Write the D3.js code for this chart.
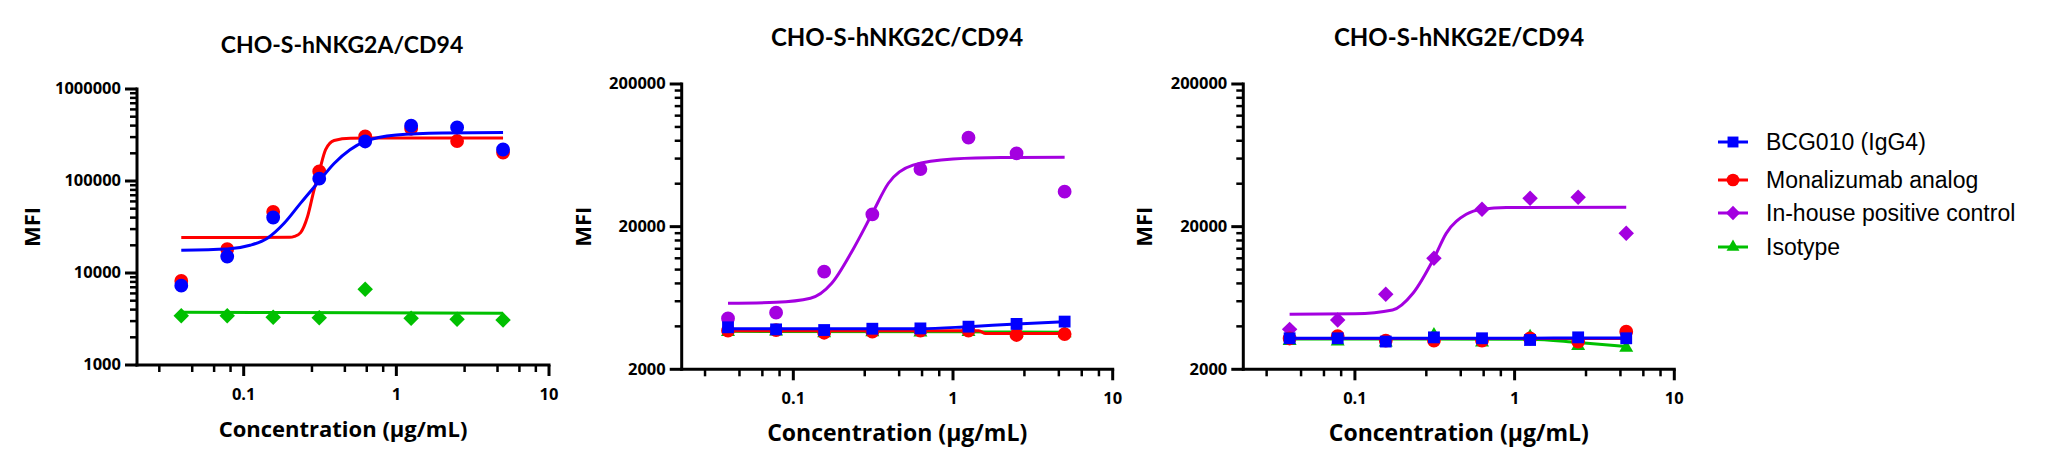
<!DOCTYPE html>
<html lang="en">
<head>
<meta charset="UTF-8">
<title>CHO-S NKG2x/CD94 binding</title>
<script src="https://cdn.jsdelivr.net/npm/d3@7/dist/d3.min.js"></script>
<style>
  body { margin: 0; background: #fff; }
  svg text { font-family: "Open Sans", Lato, sans-serif; font-weight: bold; fill: #000; }
  svg text.panel-title { font-family: Lato, "Open Sans", sans-serif; }
  .legend text { font-family: "Liberation Sans", Arial, sans-serif; font-weight: normal; }
</style>
</head>
<body>
<div id="container"></div>
<script>
// concentrations (µg/mL), 2-fold dilution
const conc = [0.039, 0.078, 0.156, 0.3125, 0.625, 1.25, 2.5, 5];

const xDomain = [0.02, 10];
const xMajorTicks = [0.1, 1, 10];
const xTickLabels = ["0.1", "1", "10"];
const xDecades = [0.01, 0.1, 1];
const xMinorSteps = [2.8, 4.6, 6.4, 8.2];

const yDomainA = [1000, 1000000];
const yMajorTicksA = [1000, 10000, 100000, 1000000];
const yDecadesA = [1000, 10000, 100000];
const yDomainCE = [2000, 200000];
const yMajorTicksCE = [2000, 20000, 200000];
const yDecadesCE = [2000, 20000];
const yMinorSteps = [2, 3, 4, 5, 6, 7, 8, 9];

const titles = ["CHO-S-hNKG2A/CD94", "CHO-S-hNKG2C/CD94", "CHO-S-hNKG2E/CD94"];
const seriesNames = ["BCG010 (IgG4)", "Monalizumab analog", "In-house positive control", "Isotype"];
const legendShapes = ["square", "circle", "diamond", "triangle"];
const xTitle = "Concentration (µg/mL)";
const yTitle = "MFI";

// NKG2A panel
const aBcg010 = [7290, 15100, 40100, 106000, 269000, 399000, 382000, 220000];
const aMona = [8200, 18200, 46200, 127000, 306000, 370000, 272000, 204000];
const aIso = [3440, 3440, 3300, 3270, 6670, 3220, 3140, 3090];
const aBcg010Fit = [[0.039, 17700], [0.078, 18200], [0.11, 20000], [0.143, 23900], [0.184, 34700], [0.236, 57500], [0.3125, 100000], [0.391, 155000], [0.497, 219000], [0.625, 269000], [1, 316000], [2, 333000], [5, 337000]];
const aMonaFit = [[0.039, 24300], [0.2, 24400], [0.215, 25000], [0.236, 27500], [0.262, 41100], [0.289, 80200], [0.3125, 127000], [0.344, 219000], [0.391, 276000], [0.5, 292000], [1, 293000], [5, 293000]];
const aIsoFit = [[0.039, 3740], [0.625, 3700], [5, 3660]];

// NKG2C panel
const cBcg010 = [3940, 3810, 3770, 3850, 3870, 3980, 4160, 4320];
const cMona = [3730, 3760, 3610, 3670, 3730, 3730, 3480, 3530];
const cPos = [4550, 4990, 9670, 24400, 50700, 84100, 65300, 35200];
const cIso = [3660, 3680, 3580, 3640, 3620, 3650, 3590, 3580];
const cBcg010Fit = [[0.039, 3850], [0.625, 3850], [1.25, 3980], [2.5, 4160], [5, 4300]];
const cMonaFit = [[0.039, 3730], [1.45, 3730], [1.6, 3560], [5, 3560]];
const cPosFit = [[0.039, 5810], [0.078, 5900], [0.128, 6300], [0.174, 8020], [0.237, 13900], [0.3125, 24800], [0.394, 40300], [0.562, 54000], [1, 59600], [2, 61000], [5, 61200]];
const cIsoFit = [[0.039, 3690], [1.25, 3660], [5, 3630]];

// NKG2E panel
const eBcg010 = [3300, 3300, 3130, 3350, 3300, 3210, 3350, 3300];
const eMona = [3290, 3420, 3180, 3180, 3180, 3290, 3130, 3670];
const ePos = [3810, 4430, 6710, 12000, 26500, 31600, 32100, 17960];
const eIso = [3160, 3130, 3080, 3480, 3080, 3380, 2910, 2830];
const eBcg010Fit = [[0.039, 3300], [1.25, 3300], [2.5, 3320], [5, 3320]];
const eMonaFit = [[0.039, 3290], [5, 3290]];
const ePosFit = [[0.039, 4860], [0.1, 4900], [0.172, 5210], [0.231, 6820], [0.3125, 12000], [0.373, 17950], [0.498, 24400], [0.625, 26500], [0.887, 27200], [5, 27300]];
const eIsoFit = [[0.039, 3260], [1.25, 3250], [2.5, 3080], [5, 2890]];

const colors = ["#0000ff", "#ff0000", "#a400e0", "#00c000"];

const panels = [
  { title: titles[0], titleX: 342, titleY: 53, titleSize: 23, axisTitleSize: 22, x0: 137, x1: 549, yTop: 89, yBottom: 365,
    yDomain: yDomainA, yMajor: yMajorTicksA, yDecades: yDecadesA, yLabelX: 32,
    series: [
      { s: 3, values: aIso, fit: aIsoFit, shape: "diamond" },
      { s: 1, values: aMona, fit: aMonaFit, shape: "circle" },
      { s: 0, values: aBcg010, fit: aBcg010Fit, shape: "circle" }] },
  { title: titles[1], titleX: 897, titleY: 46, titleSize: 24, axisTitleSize: 23, x0: 681.7, x1: 1112.7, yTop: 84, yBottom: 369.3,
    yDomain: yDomainCE, yMajor: yMajorTicksCE, yDecades: yDecadesCE, yLabelX: 583,
    series: [
      { s: 2, values: cPos, fit: cPosFit, shape: "circle" },
      { s: 3, values: cIso, fit: cIsoFit, shape: "triangle" },
      { s: 1, values: cMona, fit: cMonaFit, shape: "circle" },
      { s: 0, values: cBcg010, fit: cBcg010Fit, shape: "square" }] },
  { title: titles[2], titleX: 1459, titleY: 46, titleSize: 24, axisTitleSize: 23, x0: 1243.3, x1: 1674.3, yTop: 84, yBottom: 369.3,
    yDomain: yDomainCE, yMajor: yMajorTicksCE, yDecades: yDecadesCE, yLabelX: 1144,
    series: [
      { s: 2, values: ePos, fit: ePosFit, shape: "diamond" },
      { s: 3, values: eIso, fit: eIsoFit, shape: "triangle" },
      { s: 1, values: eMona, fit: eMonaFit, shape: "circle" },
      { s: 0, values: eBcg010, fit: eBcg010Fit, shape: "square" }] }
];

const width = 2048, height = 469;
const svg = d3.select("#container").append("svg")
    .attr("width", width)
    .attr("height", height);

const symbolTypes = { circle: d3.symbolCircle, square: d3.symbolSquare, diamond: d3.symbolSquare, triangle: d3.symbolTriangle };
const symbolSizes = { circle: 150, square: 140, diamond: 120, triangle: 85 };

function marker(sel, shape, color, scale) {
  sel.append("path")
      .attr("d", d3.symbol().type(symbolTypes[shape]).size(symbolSizes[shape] * (scale || 1))())
      .attr("fill", color)
      .attr("stroke", "none")
      .attr("transform", function() { return d3.select(this.parentNode).attr("data-t") + (shape === "diamond" ? " rotate(45)" : ""); });
}

function styleAxis(g, size, width) {
  g.attr("font-family", null).attr("font-size", size).attr("font-weight", "bold");
  g.selectAll(".tick line").attr("stroke-width", width);
  g.selectAll(".domain").attr("stroke-width", 3).attr("stroke-linecap", "square");
}

panels.forEach(function(p) {
  const x = d3.scaleLog().domain(xDomain).range([p.x0, p.x1]);
  const y = d3.scaleLog().domain(p.yDomain).range([p.yBottom, p.yTop]);
  const g = svg.append("g");

  const xMinor = xDecades.flatMap(d => xMinorSteps.map(s => d * s)).filter(v => v > xDomain[0] && v < xDomain[1]);
  const yMinor = p.yDecades.flatMap(d => yMinorSteps.map(s => d * s)).filter(v => v < p.yDomain[1]);

  // minor ticks
  const xm = g.append("g").attr("transform", "translate(0," + p.yBottom + ")")
      .call(d3.axisBottom(x).tickValues(xMinor).tickFormat("").tickSize(7).tickSizeOuter(0).offset(0));
  styleAxis(xm, 16, 2.5);
  const ym = g.append("g").attr("transform", "translate(" + p.x0 + ",0)")
      .call(d3.axisLeft(y).tickValues(yMinor).tickFormat("").tickSize(7).tickSizeOuter(0).offset(0));
  styleAxis(ym, 16, 2.5);

  // major ticks + labels
  const xa = g.append("g").attr("transform", "translate(0," + p.yBottom + ")")
      .call(d3.axisBottom(x).tickValues(xMajorTicks).tickFormat((d, i) => xTickLabels[i]).tickSize(11).tickPadding(12).tickSizeOuter(0).offset(0));
  styleAxis(xa, 16.5, 3);
  xa.select(".domain").remove();
  const ya = g.append("g").attr("transform", "translate(" + p.x0 + ",0)")
      .call(d3.axisLeft(y).tickValues(p.yMajor).tickFormat(d3.format("d")).tickSize(12).tickPadding(4).tickSizeOuter(0).offset(0));
  styleAxis(ya, 16.5, 3);
  ya.select(".domain").remove();

  // titles
  g.append("text")
      .attr("class", "panel-title")
      .attr("x", p.titleX).attr("y", p.titleY)
      .attr("text-anchor", "middle")
      .attr("font-size", p.titleSize)
      .text(p.title);
  g.append("text")
      .attr("x", (p.x0 + p.x1) / 2).attr("y", p.yBottom + 72)
      .attr("text-anchor", "middle")
      .attr("font-size", p.axisTitleSize)
      .text(xTitle);
  g.append("text")
      .attr("transform", "translate(" + p.yLabelX + "," + ((p.yTop + p.yBottom) / 2) + ") rotate(-90)")
      .attr("text-anchor", "middle")
      .attr("dy", "0.36em")
      .attr("font-size", 22)
      .text(yTitle);

  const line = d3.line()
      .x(d => x(d[0]))
      .y(d => y(d[1]))
      .curve(d3.curveMonotoneX);

  p.series.forEach(function(s) {
    const color = colors[s.s];
    g.append("path")
        .datum(s.fit)
        .attr("d", line)
        .attr("fill", "none")
        .attr("stroke", color)
        .attr("stroke-width", 3)
        .attr("stroke-linejoin", "round");

    g.append("g").selectAll("g")
        .data(s.values)
        .join("g")
        .attr("data-t", (d, i) => "translate(" + x(conc[i]) + "," + y(d) + ")")
        .each(function() { marker(d3.select(this), s.shape, color); });
  });
});

// legend
const legendRows = [142, 180, 213, 247];
const legend = svg.append("g").attr("class", "legend");
seriesNames.forEach(function(name, i) {
  const row = legend.append("g");
  row.append("line")
      .attr("x1", 1718).attr("x2", 1748)
      .attr("y1", legendRows[i]).attr("y2", legendRows[i])
      .attr("stroke", colors[i])
      .attr("stroke-width", 3);
  row.append("g")
      .attr("data-t", "translate(1733," + legendRows[i] + ")")
      .each(function() { marker(d3.select(this), legendShapes[i], colors[i], 0.85); });
  row.append("text")
      .attr("x", 1766).attr("y", legendRows[i])
      .attr("dy", "0.36em")
      .attr("font-size", 23)
      .text(name);
});
</script>
</body>
</html>
